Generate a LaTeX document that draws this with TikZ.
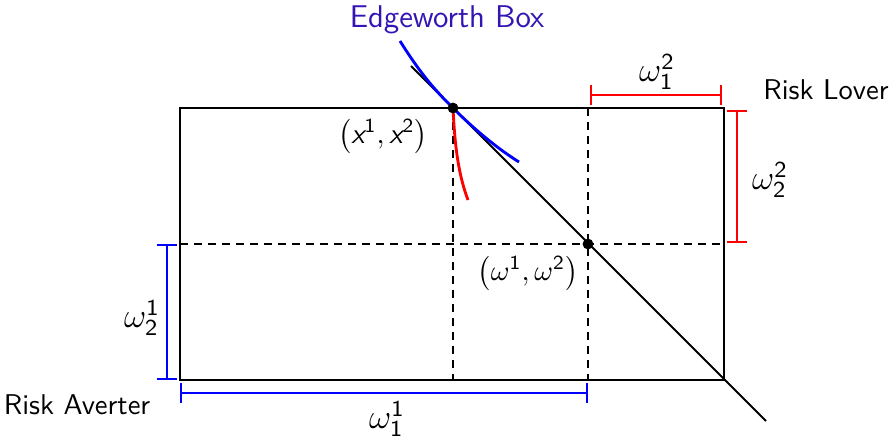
\documentclass[tikz,border=0pt]{standalone}
\usetikzlibrary{calc}
\renewcommand{\familydefault}{\sfdefault}
\definecolor{titleblue}{RGB}{52,20,180}
\newcommand{\sx}{\textsf{\itshape x}}
\begin{document}
\begin{tikzpicture}[x=0.35pt,y=-0.35pt,
  boxline/.style={line width=0.75pt},
  dash line/.style={line width=0.7pt,dash pattern=on 2.8pt off 2.1pt},
  bracket/.style={line width=0.75pt,|-|},
  curve/.style={line width=1pt},
  lbl/.style={inner sep=0pt},
  mlbl/.style={inner sep=0pt,font=\fontsize{11.5}{14}\selectfont},
  dotpt/.style={circle,fill=black,inner sep=0pt,minimum size=3.8pt}]
\useasboundingbox (0,0) rectangle (893,439);
% box corners
\coordinate (bl) at (180,380);
\coordinate (br) at (724,380);
\coordinate (tl) at (180,108);
\coordinate (tr) at (724,108);
\draw[boxline] (bl) rectangle (tr);
% dashed lines
\coordinate (hl) at (180,244);
\coordinate (hr) at (724,244);
\coordinate (v1t) at (453,108);
\coordinate (v1b) at (453,380);
\coordinate (v2t) at (588,108);
\coordinate (v2b) at (588,380);
\draw[dash line] (hl) -- (hr);
\draw[dash line] (v1t) -- (v1b);
\draw[dash line] (v2t) -- (v2b);
% budget line
\coordinate (bs) at (411,66);
\coordinate (be) at (766,421);
\draw[line width=0.7pt] (bs) -- (be);
% indifference curves
\coordinate (bc0) at (400,41);
\coordinate (bc1) at (519,162);
\draw[curve,blue] (bc0) .. controls (422,76) and (436,91) .. (v1t) .. controls (472,127) and (495,147) .. (bc1);
\coordinate (rc1) at (468,200);
\draw[curve,red] (v1t) .. controls (455,150) and (459,176) .. (rc1);
% points
\node[dotpt] (xpt) at (453,108) {};
\node[dotpt] (wpt) at (588,244) {};
% brackets
\coordinate (b1a) at (180,393); \coordinate (b1b) at (588,393);
\draw[bracket,blue] (b1a) -- (b1b);
\coordinate (b2a) at (167,244); \coordinate (b2b) at (167,380);
\draw[bracket,blue] (b2a) -- (b2b);
\coordinate (r1a) at (590,95); \coordinate (r1b) at (722,95);
\draw[bracket,red] (r1a) -- (r1b);
\coordinate (r2a) at (737,110); \coordinate (r2b) at (737,243);
\draw[bracket,red] (r2a) -- (r2b);
% labels
\node[lbl,text=titleblue,font=\fontsize{11}{13}\selectfont] (title) at (447,20) {Edgeworth Box};
\node[lbl] (lover) at (826,90) {Risk Lover};
\node[lbl] (averter) at (77,405) {Risk Averter};
\node[lbl] (xlab) at (383,136) {$\left(\sx^{\mathsf{1}},\sx^{\mathsf{2}}\right)$};
\node[lbl] (wlab) at (528,273) {$\left(\omega^{\mathsf{1}},\omega^{\mathsf{2}}\right)$};
\node[mlbl] (w11) at (387,419) {$\omega_{\mathsf{1}}^{\mathsf{1}}$};
\node[mlbl] (w21) at (142,318) {$\omega_{\mathsf{2}}^{\mathsf{1}}$};
\node[mlbl] (w12) at (657,72) {$\omega_{\mathsf{1}}^{\mathsf{2}}$};
\node[mlbl] (w22) at (770,180) {$\omega_{\mathsf{2}}^{\mathsf{2}}$};
\end{tikzpicture}
\end{document}
